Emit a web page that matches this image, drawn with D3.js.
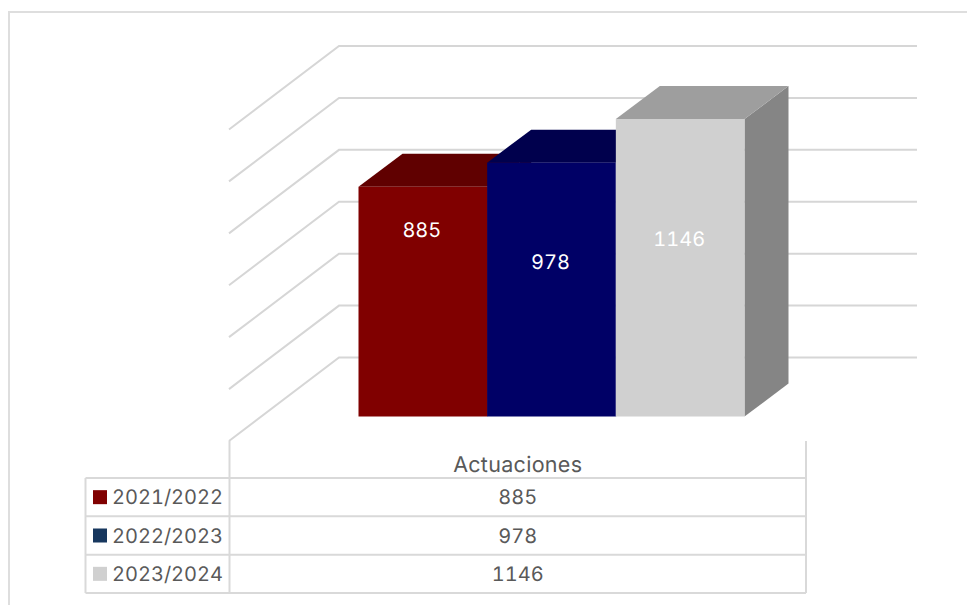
<!DOCTYPE html>
<html><head><meta charset="utf-8">
<script src="https://cdn.jsdelivr.net/npm/d3@7"></script>
<style>html,body{margin:0;background:#fff}svg{display:block}text{font-family:Inter,sans-serif;font-variant-numeric:tabular-nums;font-feature-settings:"tnum" 1;text-rendering:geometricPrecision}</style>
</head><body><svg id="c" width="967" height="605"></svg>
<script>
const seasons = ["2021/2022","2022/2023","2023/2024"];
const categoryName = "Actuaciones";
const actuaciones = [885,978,1146];
const frontColors = ["#800000","#000066","#d0d0d0"];
const topColors = ["#600000","#00004d","#9e9e9e"];
const sideColors = ["#600000","#00004d","#858585"];
const swatchColors = ["#800000","#17375e","#d0d0d0"];
const axisTicks = [0,200,400,600,800,1000,1200];

const svg = d3.select("#c");
const line = "#d9d9d9";
// chart frame
svg.append("path").attr("d","M9,605V12H967").attr("fill","none").attr("stroke","#dedede").attr("stroke-width",2);

const y = d3.scaleLinear().domain([0,1200]).range([416.5,105]);
const x = d3.scaleBand().domain(seasons).range([358.5,744.5]);
const bar = {dx:44,dy:-33};
const floor = {dx:110,dy:-83.5,x0:229,y0:441,xEnd:917};
const wallY = v => y(v) + floor.y0 - y(0) + floor.dy;

// walls
const g = svg.append("g").attr("fill","none").attr("stroke","#d6d6d6").attr("stroke-width",2);
g.selectAll("path").data(axisTicks).join("path")
 .attr("d",v=>`M${floor.x0},${wallY(v)-floor.dy}L${floor.x0+floor.dx},${wallY(v)}H${floor.xEnd}`);

// bars
seasons.forEach((s,i)=>{
  const xa=x(s), xb=xa+x.bandwidth(), yt=y(actuaciones[i]), yb=y(0);
  const b=svg.append("g");
  b.append("path").attr("fill",sideColors[i]).attr("d",`M${xb},${yt}l${bar.dx},${bar.dy}V${yb+bar.dy}L${xb},${yb}Z`);
  b.append("path").attr("fill",topColors[i]).attr("d",`M${xa},${yt}l${bar.dx},${bar.dy}H${xb+bar.dx}L${xb},${yt}Z`);
  b.append("rect").attr("x",xa).attr("y",yt).attr("width",x.bandwidth()).attr("height",yb-yt).attr("fill",frontColors[i]);
});
// data labels
svg.selectAll("text.v").data(actuaciones).join("text").attr("class","v")
 .attr("x",(d,i)=>x(seasons[i])+x.bandwidth()/2-1).attr("y",(d,i)=>y(d)+[50.5,106.5,126.5][i])
 .attr("text-anchor","middle").attr("fill","#fff").attr("font-size",20).text(d=>d);

// data table
const rowY = d3.scaleBand().domain(seasons).range([478,593]);
const tx = {l:85.5,m:229.5,r:806};
const t = svg.append("g").attr("fill","none").attr("stroke",line).attr("stroke-width",2);
t.append("path").attr("d",`M${tx.m},441V593M${tx.r},441V593M${tx.l},478V593`);
[478,...seasons.map(s=>rowY(s)+rowY.bandwidth())].forEach(yy=>t.append("path").attr("d",`M${tx.l},${yy}H${tx.r}`));
const mid=(tx.m+tx.r)/2;
const lab=(sel)=>sel.attr("fill","#595959").attr("font-size",20);
lab(svg.append("text").attr("x",mid).attr("y",472).attr("text-anchor","middle")).attr("font-size",21.5).attr("letter-spacing",.3).text(categoryName);
seasons.forEach((s,i)=>{
  const c=rowY(s)+rowY.bandwidth()/2;
  svg.append("rect").attr("x",93).attr("y",c-7.5+.5).attr("width",14).attr("height",14).attr("fill",swatchColors[i]);
  lab(svg.append("text").attr("x",112).attr("y",c+7)).text(s);
  lab(svg.append("text").attr("x",mid).attr("y",c+7).attr("text-anchor","middle")).text(actuaciones[i]);
});
</script></body></html>
